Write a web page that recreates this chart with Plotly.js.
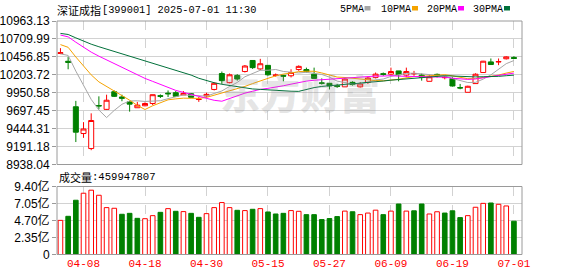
<!DOCTYPE html>
<html><head><meta charset="utf-8">
<script src="https://cdn.plot.ly/plotly-3.0.1.min.js"></script>
<style>html,body{margin:0;padding:0;background:#fff;}#chart{width:578px;height:276px;}</style>
</head><body><div id="chart"></div>
<script>
const dates = ["04-02","04-03","04-07","04-08","04-09","04-10","04-11","04-14","04-15","04-16","04-17","04-18","04-21","04-22","04-23","04-24","04-25","04-28","04-29","04-30","05-06","05-07","05-08","05-09","05-12","05-13","05-14","05-15","05-16","05-19","05-20","05-21","05-22","05-23","05-26","05-27","05-28","05-29","05-30","06-03","06-04","06-05","06-06","06-09","06-10","06-11","06-12","06-13","06-16","06-17","06-18","06-19","06-20","06-23","06-24","06-25","06-26","06-27","06-30","07-01"];
const openP  = [10505,10395,9753,9375,9163,9770,9716,9965,9891,9822,9739,9767,9799,9910,9945,9951,9920,9936,9855,9905,9997,10222,10093,10195,10250,10406,10287,10337,10195,10195,10190,10278,10278,10213,10090,10084,10050,10034,10098,10034,10098,10167,10220,10213,10259,10200,10218,10200,10112,10210,10163,10150,10023,9957,10080,10236,10386,10385,10430,10449];
const highP  = [10580,10457,9836,9536,9660,9900,9923,9983,9923,9836,9822,9815,9923,9927,9983,9974,9974,9946,9890,9951,10098,10250,10222,10213,10342,10406,10429,10337,10222,10204,10282,10337,10305,10305,10153,10084,10075,10167,10112,10098,10176,10236,10236,10305,10259,10305,10259,10222,10204,10222,10190,10167,10075,10050,10225,10400,10434,10434,10466,10466];
const lowP   = [10495,10282,9255,9315,9140,9716,9707,9891,9831,9684,9739,9760,9776,9877,9890,9890,9920,9885,9822,9882,9983,10075,10084,10121,10236,10287,10268,10190,10177,10112,10167,10260,10236,10153,10066,9997,10020,10034,10052,10025,10075,10153,10190,10204,10112,10167,10190,10121,10112,10167,10140,10038,10000,9957,10080,10236,10349,10340,10420,10429];
const closeP = [10515,10380,9394,9439,9559,9765,9845,9900,9873,9790,9776,9799,9923,9900,9936,9900,9941,9886,9859,9928,10084,10121,10204,10144,10328,10305,10360,10204,10200,10185,10236,10323,10250,10153,10084,10047,10040,10144,10066,10075,10158,10213,10210,10250,10204,10250,10222,10167,10176,10200,10167,10046,10018,10042,10212,10396,10349,10390,10457,10435];
const ma5  = [10500,10477,10256,10045,9857,9707,9600,9702,9788,9835,9837,9828,9832,9838,9867,9892,9920,9913,9904,9903,9940,9976,10039,10096,10176,10220,10268,10268,10279,10251,10237,10230,10239,10229,10209,10171,10115,10094,10076,10074,10097,10131,10144,10181,10207,10225,10227,10219,10204,10203,10186,10151,10121,10095,10097,10143,10203,10278,10361,10405];
const ma10 = [10630,10592,10455,10323,10203,10104,10039,9979,9917,9846,9772,9714,9767,9813,9851,9864,9874,9872,9871,9885,9916,9948,9976,10000,10040,10080,10122,10154,10188,10214,10229,10249,10254,10254,10230,10204,10172,10166,10153,10142,10134,10123,10119,10129,10141,10161,10179,10182,10193,10205,10206,10189,10170,10149,10150,10165,10177,10200,10228,10251];
const ma20 = [10765,10739,10664,10591,10524,10467,10414,10364,10313,10257,10201,10153,10111,10068,10027,9984,9956,9926,9894,9865,9844,9831,9871,9907,9945,9972,9998,10013,10029,10049,10072,10098,10115,10127,10135,10142,10147,10160,10170,10178,10181,10186,10186,10192,10185,10183,10176,10174,10173,10173,10170,10156,10145,10139,10145,10163,10178,10191,10210,10228];
const ma30 = [10788,10773,10725,10678,10636,10600,10567,10536,10504,10469,10434,10397,10365,10331,10299,10266,10234,10200,10155,10120,10092,10070,10052,10033,10018,10004,9998,9990,9982,9978,9972,9970,9999,10023,10040,10049,10056,10064,10071,10080,10093,10107,10116,10128,10137,10148,10158,10167,10178,10187,10190,10187,10181,10177,10174,10177,10176,10182,10191,10199];
const volumeYi = [4.72,5.28,7.50,8.47,8.89,8.19,6.48,6.39,5.56,5.69,5.00,4.95,5.37,5.83,6.34,5.97,5.93,5.69,5.14,5.65,6.48,7.18,6.48,6.11,6.07,6.25,6.34,5.88,5.60,5.69,6.07,5.97,5.51,5.51,4.83,4.97,5.24,6.00,5.91,5.51,5.73,6.13,5.51,6.00,6.98,6.00,6.04,6.98,5.60,5.91,5.73,6.04,5.10,5.37,6.53,7.07,7.12,6.94,6.71,4.60];
const priceTicks = [8938.04,9191.18,9444.31,9697.45,9950.58,10203.72,10456.85,10709.99,10963.13];
const priceTickText = ["8938.04","9191.18","9444.31","9697.45","9950.58","10203.72","10456.85","10709.99","10963.13"];
const volTicks = [0,2.35,4.70,7.05,9.40];
const volTickText = ["0","2.35亿","4.70亿","7.05亿","9.40亿"];
const dateTicks = ["04-08","04-18","04-30","05-15","05-27","06-09","06-19","07-01"];
const titleName = "深证成指";
const titleRest = "[399001] 2025-07-01 11:30";
const maNames = ["5PMA","10PMA","20PMA","30PMA"];
const volLabel = "成交量";
const volValue = "459947807";
const watermark = "东方财富";

const W = 578, H = 276;
const RED = "#ff0000", GREEN = "#008000";
const maColors = ["#a6a6a6","#f5a300","#ff00ff","#00703a"];
const px = v => v / W, py = v => 1 - v / H;

const upVol = volumeYi.map((v, i) => i === 0 ? closeP[0] >= openP[0] : closeP[i] >= closeP[i - 1]);

const traces = [
  {type:"candlestick", x:dates, open:openP, high:highP, low:lowP, close:closeP, xaxis:"x", yaxis:"y",
   whiskerwidth:0, hoverinfo:"skip",
   increasing:{line:{color:RED,width:1}, fillcolor:"#ffffff"},
   decreasing:{line:{color:GREEN,width:1}, fillcolor:GREEN}}
];
[ma5, ma10, ma20, ma30].forEach((arr, k) => traces.push({
  type:"scatter", mode:"lines", x:dates, y:arr, xaxis:"x", yaxis:"y",
  line:{color:maColors[k], width:1}, hoverinfo:"skip"
}));
traces.push({
  type:"bar", x:dates, y:volumeYi, xaxis:"x", yaxis:"y2", width:0.6,
  marker:{color:upVol.map(u => u ? "#ffffff" : GREEN), line:{color:upVol.map(u => u ? RED : GREEN), width:1}},
  hoverinfo:"skip"
});

const annotations = [
  {text:titleName, xref:"paper", yref:"paper", x:px(55), y:py(10), xanchor:"left", yanchor:"middle", showarrow:false,
   font:{family:"Noto Sans CJK SC", size:11, color:"#000"}},
  {text:titleRest, xref:"paper", yref:"paper", x:px(100), y:py(10), xanchor:"left", yanchor:"middle", showarrow:false,
   font:{family:"Liberation Mono", size:10.3, color:"#000"}},
  {text:volLabel, xref:"paper", yref:"paper", x:px(57), y:py(177), xanchor:"left", yanchor:"middle", showarrow:false,
   font:{family:"Noto Sans CJK SC", size:11, color:"#000"}},
  {text:":" + volValue, xref:"paper", yref:"paper", x:px(90), y:py(177), xanchor:"left", yanchor:"middle", showarrow:false,
   font:{family:"Liberation Mono", size:10.6, color:"#000"}},
  {text:watermark, xref:"paper", yref:"paper", x:px(300), y:py(92), xanchor:"center", yanchor:"middle", showarrow:false,
   font:{family:"Noto Sans CJK SC", size:40, color:"rgba(140,140,140,0.22)", weight:900}}
];
const legendX = [338, 379, 425, 471];
const legendSq = [364.5, 412, 458, 504];
const shapes = [
  {type:"rect", xref:"x domain", yref:"y domain", x0:0, x1:1, y0:0, y1:1, line:{color:"#9a9a9a", width:1}},
  {type:"rect", xref:"x domain", yref:"y2 domain", x0:0, x1:1, y0:0, y1:1, line:{color:"#9a9a9a", width:1}}
];
maNames.forEach((n, k) => {
  annotations.push({text:n, xref:"paper", yref:"paper", x:px(legendX[k]), y:py(9), xanchor:"left", yanchor:"middle",
    showarrow:false, font:{family:"Liberation Mono", size:10, color:"#000"}});
  shapes.push({type:"rect", xref:"paper", yref:"paper", x0:px(legendSq[k]), x1:px(legendSq[k] + 6),
    y0:py(10.5), y1:py(6), fillcolor:maColors[k], line:{width:0}});
});

const layout = {
  width:W, height:H, margin:{l:0, r:0, t:0, b:0}, paper_bgcolor:"#fff", plot_bgcolor:"#fff",
  showlegend:false, boxgap:0.35, boxgroupgap:0, hovermode:false,
  xaxis:{type:"category", domain:[px(57), px(522)], range:[-0.45, 60.05], anchor:"y2",
    tickmode:"array", tickvals:dateTicks, ticktext:dateTicks, ticks:"", showline:false, zeroline:false,
    tickfont:{family:"Liberation Mono", size:11, color:RED},
    showgrid:true, gridcolor:"#d2d2d2", griddash:"dash", gridwidth:1,
    rangeslider:{visible:false}, fixedrange:true},
  yaxis:{domain:[py(164.5), py(21)], range:[8938.04, 10963.13], tickmode:"array", tickvals:priceTicks, ticktext:priceTickText,
    ticks:"outside", ticklen:4, tickcolor:"#9a9a9a", showgrid:true, gridcolor:"#d2d2d2", zeroline:false, showline:false,
    tickfont:{family:"Liberation Sans", size:12, color:"#000"}, fixedrange:true},
  yaxis2:{domain:[py(254.5), py(186.5)], range:[0, 9.40], tickmode:"array", tickvals:volTicks, ticktext:volTickText,
    ticks:"outside", ticklen:4, tickcolor:"#9a9a9a", showgrid:true, gridcolor:"#d2d2d2", zeroline:false, showline:false,
    tickfont:{family:"Liberation Sans, Noto Sans CJK SC", size:12, color:"#000"}, fixedrange:true},
  annotations, shapes
};
Plotly.newPlot("chart", traces, layout, {displayModeBar:false, staticPlot:true});
</script></body></html>
